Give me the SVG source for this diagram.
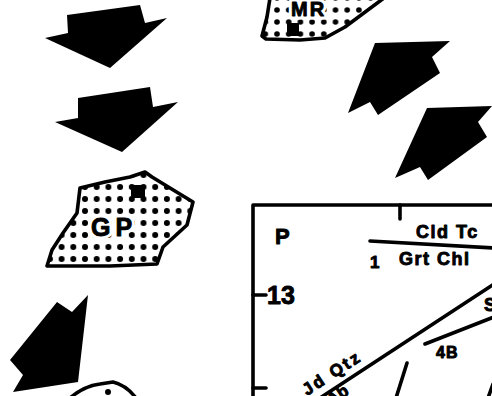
<svg xmlns="http://www.w3.org/2000/svg" width="492" height="396" viewBox="0 0 492 396">
<style>
.ln{fill:none;stroke:#000;stroke-width:3.6;stroke-linecap:round;stroke-linejoin:round}
.t{font-family:"Liberation Sans",Arial,sans-serif;font-weight:bold;fill:#000;stroke:#000;stroke-width:0.9;stroke-linejoin:round}
.halo{fill:#fff;stroke:#fff;stroke-width:7}
.arw{fill:#000}
</style>
<defs>
<pattern id="dotsGP" patternUnits="userSpaceOnUse" x="79.15" y="181" width="11.7" height="12">
<circle cx="5.85" cy="6" r="3" fill="#000"/>
</pattern>
<pattern id="dotsMR" patternUnits="userSpaceOnUse" x="271.15" y="4" width="11.7" height="12">
<circle cx="5.85" cy="6" r="2.8" fill="#000"/>
</pattern>
</defs>
<rect width="492" height="396" fill="#fff"/>

<g id="arrow-down-1"><polygon class="arw" points="67,15 140,5 145,23 167,18 110,68 45,38 68,33"/></g>
<g id="arrow-down-2"><polygon class="arw" points="78,98 150,87 153,107 178,102 122,152 55,122 78,118"/></g>
<g id="arrow-up-1"><polygon class="arw" points="375,43 450,41 432,57 440,73 378,115 370,102 348,113"/></g>
<g id="arrow-up-2"><polygon class="arw" points="427,108 492,106 478,122 487,137 428,180 420,167 395,178"/></g>
<g id="arrow-left-down"><polygon class="arw" points="88,295 78,382 13,392 23,375 10,360 57,302 72,312"/></g>

<g id="rock-MR">
<path d="M270,-2 L267,17 L262,36 L266,39 L300,40 L325,38 L345,27 L384,-2 Z" fill="url(#dotsMR)"/>
<path class="ln" d="M270,-2 L267,17 L262,36 L266,39 L300,40 L325,38 L345,27 L384,-2"/>
<rect x="287" y="23" width="12" height="13" fill="#000"/>
<text class="t halo" x="291" y="16" font-size="20" letter-spacing="2">MR</text>
<text class="t" x="291" y="16" font-size="20" letter-spacing="2">MR</text>
</g>

<g id="rock-GP">
<path d="M80,188 L105,182 L130,177 L145,172 L152,177 L170,188 L193,202 L187,225 L163,247 L157,264 L110,266 L47,266 L52,250 L63,233 L77,213 Z" fill="url(#dotsGP)"/>
<path class="ln" d="M80,188 L105,182 L130,177 L145,172 L152,177 L170,188 L193,202 L187,225 L163,247 L157,264 L110,266 L47,266 L52,250 L63,233 L77,213 Z"/>
<rect x="131" y="185" width="14" height="13" fill="#000"/>
<text class="t halo" x="91" y="236" font-size="25" letter-spacing="5">GP</text>
<text class="t" x="91" y="236" font-size="25" letter-spacing="5">GP</text>
</g>

<g id="rock-bottom">
<path class="ln" d="M70,398 Q84,386 100,384 L113,382 Q126,385 136,398"/>
<circle cx="108" cy="392" r="3" fill="#000"/>
</g>

<g id="pt-diagram">
<path class="ln" d="M253,398 L253,205 L494,205"/>
<path class="ln" d="M400,205 L400,219"/>
<path class="ln" d="M253,295 L266,295"/>
<path class="ln" d="M253,388 L266,388"/>
<text class="t" x="275" y="244" font-size="22">P</text>
<text class="t" x="267" y="304" font-size="25">13</text>
</g>

<g id="connectors">
<path class="ln" d="M370,241 L494,248"/>
<path class="ln" d="M320,398 L494,284"/>
<path class="ln" d="M425,344 L494,317"/>
<path class="ln" d="M407,363 L396,398"/>
<path class="ln" d="M488,398 L493,384"/>
</g>

<g id="labels">
<text class="t" x="416" y="238" font-size="18" letter-spacing="1.5">Cld Tc</text>
<text class="t" x="370" y="268" font-size="17">1</text>
<text class="t" x="399" y="265" font-size="18" letter-spacing="1.5">Grt Chl</text>
<text class="t" x="436" y="358" font-size="16" letter-spacing="1">4B</text>
<text class="t" x="484" y="311" font-size="18">S</text>
<text class="t" x="307" y="396" font-size="17" letter-spacing="2.5" transform="rotate(-33 307 396)">Jd Qtz</text>
<text class="t" x="331" y="406" font-size="17" transform="rotate(-33 331 406)">Ab</text>
</g>
</svg>
